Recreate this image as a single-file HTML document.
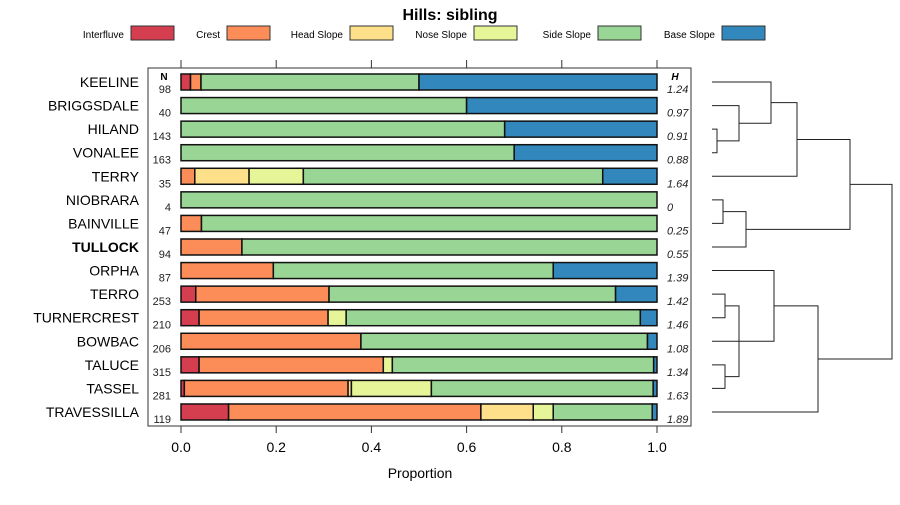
<!DOCTYPE html>
<html><head><meta charset="utf-8"><style>
body{margin:0;background:#fff}
svg{font-family:"Liberation Sans",sans-serif}
</style></head><body>
<svg id="c" width="900" height="500" xmlns="http://www.w3.org/2000/svg">
<text x="450" y="20" text-anchor="middle" font-size="16" font-weight="bold">Hills: sibling</text>
<g id="legend"></g>
<rect x="148" y="68" width="543" height="358" fill="none" stroke="#333"/>
<g id="bars"></g>
<g id="axis"></g>
<g id="dendro" fill="none" stroke="#222" stroke-width="1"></g>
<text x="420" y="478" text-anchor="middle" font-size="14">Proportion</text>
</svg>
<script>
const categories=["Interfluve","Crest","Head Slope","Nose Slope","Side Slope","Base Slope"];
const colors=["#D53E4F","#FC8D59","#FEE08B","#E6F598","#99D594","#3288BD"];
const names=["KEELINE","BRIGGSDALE","HILAND","VONALEE","TERRY","NIOBRARA","BAINVILLE","TULLOCK","ORPHA","TERRO","TURNERCREST","BOWBAC","TALUCE","TASSEL","TRAVESSILLA"];
const nValues=[98,40,143,163,35,4,47,94,87,253,210,206,315,281,119];
const hValues=["1.24","0.97","0.91","0.88","1.64","0","0.25","0.55","1.39","1.42","1.46","1.08","1.34","1.63","1.89"];
// proportions per class: interfluve, crest, head, nose, side, base
const interfluve=[0.02,0,0,0,0,0,0,0,0,0.031,0.038,0,0.038,0.007,0.10];
const crest=[0.022,0,0,0,0.029,0,0.043,0.128,0.194,0.28,0.271,0.378,0.387,0.344,0.53];
const head=[0,0,0,0,0.114,0,0,0,0,0,0,0,0,0.007,0.11];
const nose=[0,0,0,0,0.114,0,0,0,0,0,0.038,0,0.019,0.168,0.042];
const side=[0.458,0.60,0.68,0.70,0.629,1,0.957,0.872,0.588,0.602,0.618,0.602,0.549,0.466,0.208];
const base=[0.50,0.40,0.32,0.30,0.114,0,0,0,0.218,0.087,0.035,0.02,0.007,0.008,0.01];
const xTicks=[0,0.2,0.4,0.6,0.8,1.0];
const NS="http://www.w3.org/2000/svg";
const svg=document.getElementById('c');
function mk(tag,attrs,parent,text){const e=document.createElementNS(NS,tag);for(const k in attrs)e.setAttribute(k,attrs[k]);if(text!==undefined)e.textContent=text;parent.appendChild(e);return e;}
const X=v=>181+v*476;
const Y=i=>82+i*23.57;
// legend
const lg=document.getElementById('legend');
const legX=[131,227,350,474,598,722];
categories.forEach((c,i)=>{
  const t=mk('text',{x:legX[i]-7,y:38,'text-anchor':'end','font-size':10},lg,c);
  
  
  const r=mk('rect',{x:legX[i],y:26,width:43,height:14,fill:colors[i],stroke:'#333'},lg);
  
  
});
const bg=document.getElementById('bars');
mk('text',{x:164,y:80,'text-anchor':'middle','font-size':10,'font-weight':'bold'},bg,'N');
mk('text',{x:675,y:80,'text-anchor':'middle','font-size':10,'font-weight':'bold','font-style':'italic'},bg,'H');
const series=[interfluve,crest,head,nose,side,base];
names.forEach((n,i)=>{
  const y=Y(i);
  const lab=mk('text',{x:139,y:y+5,'text-anchor':'end','font-size':14,'font-weight':n==='TULLOCK'?'bold':'normal'},bg,n);
  
  
  mk('text',{x:171,y:y+11,'text-anchor':'end','font-size':11,fill:'#222'},bg,nValues[i]);
  mk('text',{x:667,y:y+11,'font-size':11,'font-style':'italic',fill:'#222'},bg,hValues[i]);
  let acc=0;
  series.forEach((s,k)=>{
    const v=s[i];if(v<=0)return;
    const r=mk('rect',{x:X(acc),y:y-8,width:X(acc+v)-X(acc),height:16,fill:colors[k],stroke:'#111','stroke-width':1.5},bg);
    
    
    acc+=v;
  });
});
const ax=document.getElementById('axis');
xTicks.forEach(t=>{
  mk('line',{x1:X(t),x2:X(t),y1:426,y2:433,stroke:'#333'},ax);
  mk('line',{x1:X(t),x2:X(t),y1:60,y2:68,stroke:'#333'},ax);
  mk('text',{x:X(t),y:452,'text-anchor':'middle','font-size':14},ax,t.toFixed(1));
});
// dendrogram: merges [leftNode,rightNode,height]; negative = leaf index
const merges=[[-2,-3,717],[-1,0,739],[-0,1,771],[2,-4,797],[-5,-6,723],[4,-7,746],[3,5,850],[-9,-10,725],[-12,-13,725],[7,8,739],[9,-11,758],[-8,10,774],[11,-14,818],[6,12,892]];
const dg=document.getElementById('dendro');
const nodes=[];
function pos(ref,isLeaf){return isLeaf?{x:712,y:Y(ref)}:nodes[ref];}
merges.forEach((m,j)=>{
  const a=(Object.is(m[0],-0)||m[0]<0)?{x:712,y:Y(-m[0])}:nodes[m[0]];
  const b=(Object.is(m[1],-0)||m[1]<0)?{x:712,y:Y(-m[1])}:nodes[m[1]];
  const h=m[2];
  mk('path',{d:`M${a.x},${a.y}H${h}V${b.y}H${b.x}`},dg);
  nodes[j]={x:h,y:(a.y+b.y)/2};
});
</script>
</body></html>
